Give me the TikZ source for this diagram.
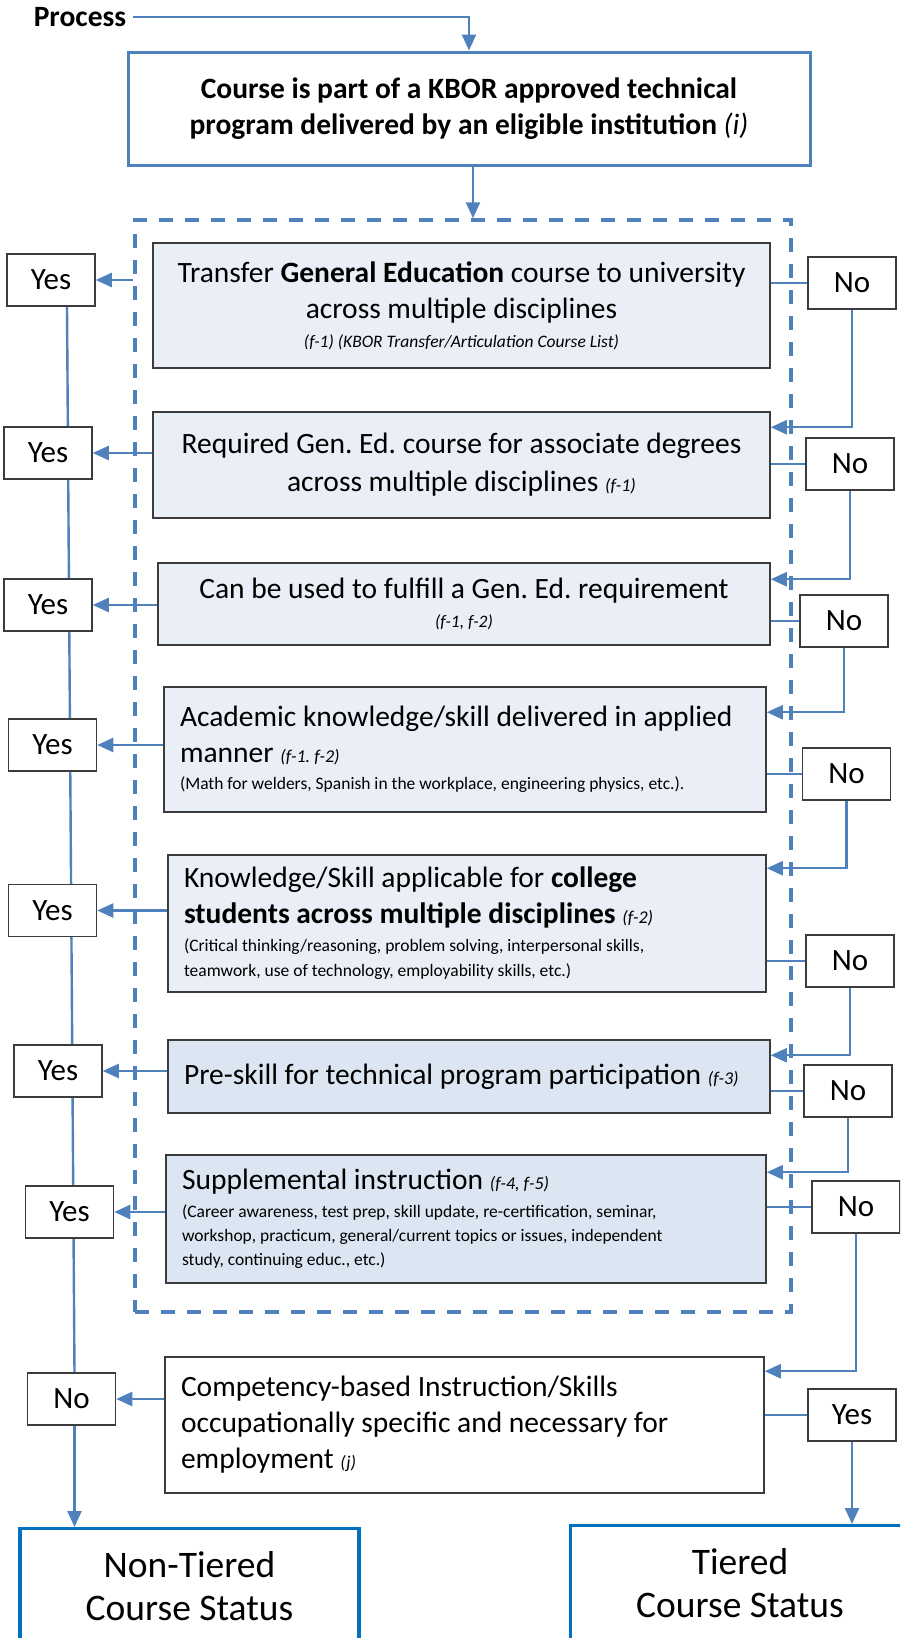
\documentclass[tikz,border=0pt]{standalone}
\usepackage{fontspec}
\setmainfont{Carlito}
\usepackage{tikz}
\usetikzlibrary{arrows.meta,backgrounds}

\definecolor{linkblue}{RGB}{79,129,189}
\definecolor{statusblue}{RGB}{0,112,192}
\definecolor{critfill}{RGB}{233,238,247}
\definecolor{critfilldk}{RGB}{220,230,242}
\definecolor{edgegray}{RGB}{60,60,60}

\newcommand\boxfont{\fontsize{14.75}{18}\selectfont}
\newcommand\notefont{\fontsize{8.75}{12}\selectfont}
\newcommand\critref[1]{{\fontsize{9}{12}\selectfont\itshape #1}}
\newcommand\ynfont{\fontsize{15.5}{18}\selectfont}
\newcommand\statusfont{\fontsize{18.75}{21.5}\selectfont}

\tikzset{
	link/.style={draw=linkblue, line width=1.2pt},
	arr/.style={link, -{Triangle[length=8pt,width=7pt]}},
	crit/.style={draw=edgegray, fill=critfill, line width=0.75pt, font=\boxfont, inner ysep=2pt,
		execute at begin node={\spaceskip=0pt\relax\xspaceskip=0pt\relax\frenchspacing}},
	critc/.style={crit, align=flush center, inner xsep=4pt},
	critl/.style={crit, align=flush left, inner xsep=8pt},
	answer/.style={draw=edgegray, fill=white, line width=0.75pt, font=\ynfont, minimum width=44pt, minimum height=26pt, inner sep=0pt},
	status/.style={draw=statusblue, line width=1.6pt, font=\statusfont, align=center, anchor=north, minimum width=169.5pt, inner ysep=11.5pt},
	groupbox/.style={draw=linkblue, line width=1.75pt, dash pattern=on 7pt off 6pt, minimum width=328pt, minimum height=546pt, inner sep=0pt}
}

\begin{document}
\begin{tikzpicture}[x=0.5pt,y=-0.5pt]
	\useasboundingbox (0,0) rectangle (900,1638);
	\clip (0,0) rectangle (900,1638);
%	\draw[help lines] (0,0) grid[step=50] (900,1638);
	\path (80,17) coordinate (processc);
	\path (469,108.5) coordinate (topc);
	\path (463,766) coordinate (groupc);

	\path (461.5,305.5) coordinate (box1c);
	\path (461.5,465) coordinate (box2c);
	\path (464,604) coordinate (box3c);
	\path (465,749.5) coordinate (box4c);
	\path (467,923.5) coordinate (box5c);
	\path (469,1076.5) coordinate (box6c);
	\path (466,1219) coordinate (box7c);
	\path (464.5,1425) coordinate (box8c);

	\path (51,280) coordinate (yes1c);
	\path (48,453) coordinate (yes2c);
	\path (48,605) coordinate (yes3c);
	\path (52.5,745) coordinate (yes4c);
	\path (52.5,910.5) coordinate (yes5c);
	\path (58,1071) coordinate (yes6c);
	\path (69.5,1212) coordinate (yes7c);
	\path (71.5,1399) coordinate (no8c);

	\path (852,283) coordinate (no1c);
	\path (850,464) coordinate (no2c);
	\path (844,621) coordinate (no3c);
	\path (846.5,774) coordinate (no4c);
	\path (850,961) coordinate (no5c);
	\path (848,1091) coordinate (no6c);
	\path (856,1207) coordinate (no7c);
	\path (852,1415) coordinate (yes8c);

	\path (189.5,1527) coordinate (nontierc);
	\path (740,1524) coordinate (tierc);

	\node[font=\boxfont\bfseries] (process) at (processc) {Process};
	\node[crit, fill=none, draw=linkblue, line width=1.5pt, font=\boxfont\bfseries, align=flush center, text width=333pt, inner xsep=4pt, minimum height=56.5pt] (top) at (topc)
		{Course is part of a KBOR approved technical\par program delivered by an eligible institution {\mdseries\itshape (i)}};
	\node[groupbox] (group) at (groupc) {};

	\node[critc, text width=300.5pt, minimum height=62.5pt] (box1) at (box1c)
		{Transfer \textbf{General Education} course to university\par across multiple disciplines\par\vspace{2.5pt}
		{\notefont\itshape (f-1) (KBOR Transfer/Articulation Course List)\par}};
	\node[critc, text width=300.5pt, minimum height=53pt] (box2) at (box2c)
		{Required Gen. Ed. course for associate degrees\par\vspace{1pt} across multiple disciplines \critref{(f-1)}};
	\node[critc, text width=298pt, minimum height=41pt] (box3) at (box3c)
		{Can be used to fulfill a Gen. Ed. requirement\par\vspace{2.5pt}
		{\notefont\itshape (f-1, f-2)\par}};
	\node[critl, text width=285pt, minimum height=62.5pt] (box4) at (box4c)
		{Academic knowledge/skill delivered in applied\\ manner \critref{(f-1. f-2)}\par\vspace{1.5pt}
		{\notefont (Math for welders, Spanish in the workplace, engineering physics, etc.).\par}};
	\node[critl, text width=283pt, minimum height=68.5pt] (box5) at (box5c)
		{Knowledge/Skill applicable for \textbf{college}\\ \textbf{students across multiple disciplines} \critref{(f-2)}\par\vspace{1.5pt}
		{\notefont\baselineskip=12.5pt (Critical thinking/reasoning, problem solving, interpersonal skills,\\ teamwork, use of technology, employability skills, etc.)\par}};
	\node[critl, fill=critfilldk, text width=285pt, minimum height=36.5pt] (box6) at (box6c)
		{Pre-skill for technical program participation \critref{(f-3)}};
	\node[critl, fill=critfilldk, text width=284pt, minimum height=64pt] (box7) at (box7c)
		{Supplemental instruction \critref{(f-4, f-5)}\par\vspace{2pt}
		{\notefont (Career awareness, test prep, skill update, re-certification, seminar,\\ workshop, practicum, general/current topics or issues, independent\\ study, continuing educ., etc.)\par}};
	\node[critl, fill=white, text width=283.5pt, minimum height=68pt] (box8) at (box8c)
		{Competency-based Instruction/Skills\\ occupationally specific and necessary for\\ employment \critref{(j)}};

	\node[answer] (yes1) at (yes1c) {Yes};
	\node[answer] (yes2) at (yes2c) {Yes};
	\node[answer] (yes3) at (yes3c) {Yes};
	\node[answer] (yes4) at (yes4c) {Yes};
	\node[answer] (yes5) at (yes5c) {Yes};
	\node[answer] (yes6) at (yes6c) {Yes};
	\node[answer] (yes7) at (yes7c) {Yes};
	\node[answer] (no8) at (no8c) {No};

	\node[answer] (no1) at (no1c) {No};
	\node[answer] (no2) at (no2c) {No};
	\node[answer] (no3) at (no3c) {No};
	\node[answer] (no4) at (no4c) {No};
	\node[answer] (no5) at (no5c) {No};
	\node[answer] (no6) at (no6c) {No};
	\node[answer] (no7) at (no7c) {No};
	\node[answer] (yes8) at (yes8c) {Yes};

	\node[status] (nontier) at (nontierc) {Non-Tiered\\Course Status};
	\node[status] (tier) at (tierc) {Tiered\\Course Status};

	\draw[arr] (process.east) -| (top.north);
	\draw[arr] ([xshift=2pt]top.south) -- ([xshift=2pt]top.south |- group.north);

	\begin{scope}[on background layer]
		\draw[link] ([xshift=8pt]yes1.south) -- ([xshift=1.5pt]no8.north);
	\end{scope}
	\draw[arr] (group.west |- yes1.east) -- (yes1.east);
	\draw[arr] (box2.west |- yes2.east) -- (yes2.east);
	\draw[arr] (box3.west |- yes3.east) -- (yes3.east);
	\draw[arr] (box4.west |- yes4.east) -- (yes4.east);
	\draw[arr] (box5.west |- yes5.east) -- (yes5.east);
	\draw[arr] (box6.west |- yes6.east) -- (yes6.east);
	\draw[arr] (box7.west |- yes7.east) -- (yes7.east);
	\draw[arr] (box8.west |- no8.east) -- (no8.east);
	\draw[arr] ([xshift=1.5pt]no8.south) -- ([xshift=1.5pt]no8.south |- nontier.north);

	\draw[link] (box1.east |- no1.west) -- (no1.west);
	\draw[arr] (no1.south) |- ([yshift=-8pt]box2.north east);
	\draw[link] (box2.east |- no2.west) -- (no2.west);
	\draw[arr] (no2.south) |- ([yshift=-8.5pt]box3.north east);
	\draw[link] (box3.east |- no3.west) -- (no3.west);
	\draw[arr] (no3.south) |- ([yshift=-13pt]box4.north east);
	\draw[link] (box4.east |- no4.west) -- (no4.west);
	\draw[arr] (no4.south) |- ([yshift=-7pt]box5.north east);
	\draw[link] (box5.east |- no5.west) -- (no5.west);
	\draw[arr] (no5.south) |- ([yshift=-8pt]box6.north east);
	\draw[link] (box6.east |- no6.west) -- (no6.west);
	\draw[arr] (no6.south) |- ([yshift=-9pt]box7.north east);
	\draw[link] (box7.east |- no7.west) -- (no7.west);
	\draw[arr] (no7.south) |- ([yshift=-7.5pt]box8.north east);
	\draw[link] (box8.east |- yes8.west) -- (yes8.west);
	\draw[arr] (yes8.south) -- (yes8.south |- tier.north);
\end{tikzpicture}
\end{document}
